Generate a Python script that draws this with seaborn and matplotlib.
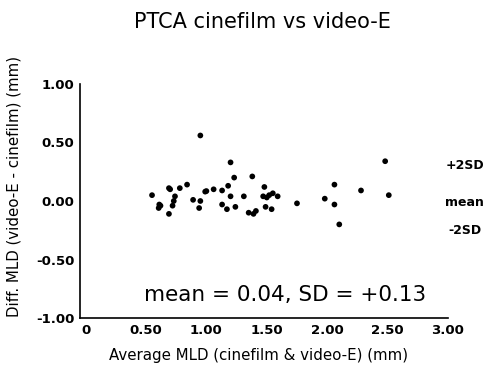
import matplotlib
matplotlib.use("Agg")
import matplotlib.pyplot as plt
import seaborn as sns
import pandas as pd

avg_mld = [0.55, 0.61, 0.605, 0.62, 0.69, 0.70, 0.69, 0.74, 0.73, 0.72, 0.78, 0.84,
           0.89, 0.95, 0.94, 0.95, 0.99, 1.00, 1.06, 1.13, 1.18, 1.20, 1.20, 1.13,
           1.17, 1.23, 1.24, 1.31, 1.38, 1.35, 1.39, 1.41, 1.48, 1.47, 1.50, 1.55,
           1.59, 1.49, 1.54, 1.75, 1.98, 2.06, 2.06, 2.10, 2.28, 2.48, 2.51, 1.52]
diff_mld = [0.05, -0.03, -0.06, -0.04, 0.11, 0.10, -0.11, 0.04, 0.00, -0.04, 0.11, 0.14,
            0.01, 0.00, -0.06, 0.56, 0.08, 0.085, 0.10, 0.09, 0.13, 0.33, 0.04, -0.03,
            -0.07, 0.20, -0.05, 0.04, 0.21, -0.10, -0.11, -0.085, 0.12, 0.04, 0.03, 0.066,
            0.04, -0.05, -0.07, -0.02, 0.02, 0.14, -0.03, -0.20, 0.09, 0.34, 0.05, 0.05]
x_ticks = [0, 0.5, 1.0, 1.5, 2.0, 2.5, 3.0]
x_tick_labels = ["0", "0.50", "1.00", "1.50", "2.00", "2.50", "3.00"]
y_ticks = [-1.0, -0.5, 0.0, 0.5, 1.0]
y_tick_labels = ["-1.00", "-0.50", "0.00", "0.50", "1.00"]
ref_labels = ["+2SD", "mean", "-2SD"]
ref_label_y = [0.30, -0.01, -0.25]

sns.set_style("white")
plt.rcParams['font.family'] = ['DejaVu Sans']
plt.rcParams['text.color'] = 'black'
plt.rcParams['axes.labelcolor'] = 'black'
plt.rcParams['xtick.color'] = 'black'
plt.rcParams['ytick.color'] = 'black'

df = pd.DataFrame({"avg": avg_mld, "diff": diff_mld})
fig = plt.figure(figsize=(4.88, 3.70), dpi=100)
ax = fig.add_axes([0.164, 0.1405, 0.754, 0.6325])
sns.scatterplot(data=df, x="avg", y="diff", ax=ax, color="black", s=17,
                edgecolor="none", legend=False)
ax.set_xlim(-0.046, 3.0)
ax.set_ylim(-1.0, 1.0)
ax.set_xticks(x_ticks)
ax.set_xticklabels(x_tick_labels, fontsize=9.5, fontweight="bold")
ax.set_yticks(y_ticks)
ax.set_yticklabels(y_tick_labels, fontsize=9.5, fontweight="bold")
ax.tick_params(axis="both", length=0, pad=4)
for s in ["top", "right"]:
    ax.spines[s].set_visible(False)
for s in ["left", "bottom"]:
    ax.spines[s].set_color("black")
    ax.spines[s].set_linewidth(1.2)
ax.set_xlabel("Average MLD (cinefilm & video-E) (mm)", fontsize=10.8)
ax.set_ylabel("Diff. MLD (video-E - cinefilm) (mm)", fontsize=10.8)
ax.xaxis.set_label_coords(0.484, -0.13)
ax.yaxis.set_label_coords(-0.16, 0.564)
fig.text(0.537, 0.94, "PTCA cinefilm vs video-E", ha="center", va="center", fontsize=15)
for lab, yv in zip(ref_labels, ref_label_y):
    ax.text(3.14, yv, lab, ha="center", va="center", fontsize=9, fontweight="bold",
            clip_on=False)
ax.text(1.65, -0.80, "mean = 0.04, SD = +0.13", ha="center", va="center", fontsize=15.5)
fig.savefig("out.png", dpi=100)
